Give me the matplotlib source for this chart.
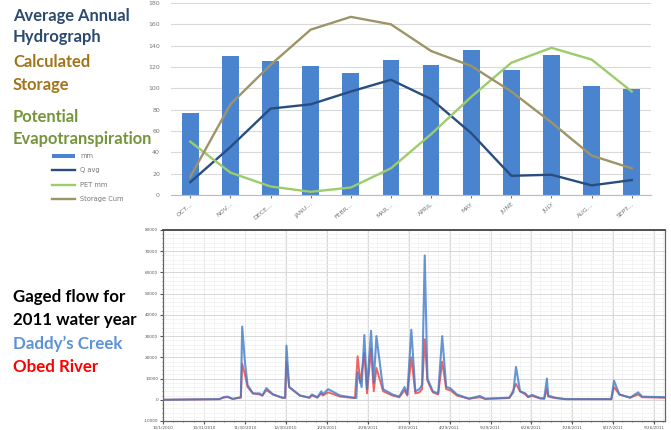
import matplotlib
matplotlib.use("Agg")
import matplotlib.pyplot as plt
from matplotlib.ticker import MultipleLocator
import numpy as np

# --- top chart: average annual hydrograph (mm) ---
months = ["OCT...", "NOV...", "DECE...", "JANU...", "FEBR...", "MAR...",
          "APRIL", "MAY", "JUNE", "JULY", "AUG...", "SEPT..."]
rain_mm = [77, 130, 126, 121, 114, 127, 122, 136, 117, 131, 102, 99]
q_avg = [12, 45, 81, 85, 97, 108, 90, 58, 18, 19, 9, 14]
pet_mm = [50, 21, 8, 3, 7, 25, 57, 92, 124, 138, 127, 97]
storage_cum = [17, 85, 122, 155, 167, 160, 135, 121, 97, 68, 37, 25]

# --- bottom chart: gaged flow, 2011 water year (day of water year, cfs) ---
daddys_day = [0, 27, 42, 45, 48, 52, 56, 58, 59, 61, 63, 67, 72, 74, 77, 82, 89, 91, 92, 94,
              102, 109, 111, 115, 118, 119, 123, 132, 144, 145, 148, 150, 152, 155, 157, 159,
              164, 171, 176, 180, 182, 185, 188, 191, 193, 195, 197, 201, 205, 208, 211, 214,
              219, 228, 236, 240, 258, 261, 263, 266, 270, 272, 275, 281, 284, 286, 287, 292,
              300, 334, 336, 340, 348, 354, 357, 374]
daddys_flow = [0, 200, 300, 1200, 1500, 400, 1000, 1200, 34500, 18000, 7000, 3000, 3000, 2000,
               5500, 2500, 1000, 1000, 25500, 6000, 2000, 1000, 2500, 1200, 4000, 2500, 5000,
               2000, 800, 13000, 6000, 30500, 5000, 32500, 8000, 30000, 5000, 2500, 1500, 6000,
               2500, 33000, 4000, 5000, 7000, 68000, 10000, 4000, 3000, 30000, 6000, 5500, 2500,
               500, 1800, 500, 1000, 3500, 15500, 4000, 3000, 1500, 2300, 800, 600, 10000, 2000,
               1000, 300, 300, 9000, 2500, 1000, 3500, 1500, 1200]
obed_day = [0, 27, 42, 45, 48, 52, 56, 58, 59, 61, 63, 67, 72, 74, 77, 82, 89, 91, 92, 94,
            102, 109, 111, 115, 118, 119, 123, 132, 143, 145, 147, 150, 152, 155, 157, 159,
            164, 171, 176, 180, 182, 185, 188, 191, 193, 195, 197, 201, 205, 208, 211, 214,
            219, 228, 236, 240, 258, 261, 263, 266, 270, 272, 275, 281, 284, 286, 287, 292,
            300, 334, 336, 340, 348, 354, 357, 374]
obed_flow = [0, 200, 300, 1000, 1300, 400, 800, 1000, 17000, 12000, 6000, 3000, 2500, 2000,
             4500, 2500, 900, 900, 18000, 6000, 2000, 1000, 2000, 1000, 3000, 2000, 3500,
             1500, 800, 20500, 8000, 22000, 3000, 24000, 4000, 15000, 4000, 2000, 1200, 4500,
             2000, 20000, 3000, 3500, 5000, 28500, 9000, 3500, 2500, 18000, 5000, 4500, 2000,
             500, 1200, 400, 800, 4500, 7500, 4000, 2500, 1200, 1800, 600, 500, 5000, 1500,
             800, 300, 300, 6000, 2500, 1000, 2500, 1200, 1000]
flow_ticks = [-10000, 0, 10000, 20000, 30000, 40000, 50000, 60000, 70000, 80000]
date_ticks = ["10/1/2010", "10/31/2010", "11/30/2010", "12/30/2010", "1/29/2011",
              "2/28/2011", "3/30/2011", "4/29/2011", "5/29/2011", "6/28/2011",
              "7/28/2011", "8/27/2011", "9/26/2011"]

W, H = 671, 430
fig = plt.figure(figsize=(W / 100, H / 100), dpi=100)
fig.patch.set_facecolor("white")

def fx(px):
    return px / W

def fy(py):
    return 1 - py / H

# top chart
ax1 = fig.add_axes([fx(171), fy(195), fx(651) - fx(171), fy(3) - fy(195)])
x = np.arange(len(months))
bars = ax1.bar(x, rain_mm, width=0.42, color="#4a84cf", label="mm", zorder=2)
l_q, = ax1.plot(x, q_avg, color="#2a4d80", lw=1.7, label="Q avg", zorder=3)
l_pet, = ax1.plot(x, pet_mm, color="#9ccc6c", lw=1.7, label="PET mm", zorder=3)
l_st, = ax1.plot(x, storage_cum, color="#9d9468", lw=1.7, label="Storage Cum", zorder=3)
ax1.set_xlim(-0.48, 11.48)
ax1.set_ylim(0, 177)
ax1.set_yticks(range(0, 181, 20))
ax1.tick_params(axis="y", labelsize=4.5, colors="#777777", length=0, pad=8)
ax1.set_xticks(x)
ax1.set_xticklabels(months, rotation=40, ha="right", rotation_mode="anchor")
ax1.tick_params(axis="x", labelsize=4.5, colors="#777777", length=2, pad=3)
ax1.grid(axis="y", color="#d9d9d9", lw=0.8, zorder=0)
for s in ["top", "right", "left"]:
    ax1.spines[s].set_visible(False)
ax1.spines["bottom"].set_color("#bbbbbb")

fig.legend([bars, l_q, l_pet, l_st], ["mm", "Q avg", "PET mm", "Storage Cum"],
           loc="upper left", bbox_to_anchor=(fx(46), fy(147)), fontsize=4.8,
           frameon=False, labelspacing=1.25, handlelength=3.4, handleheight=0.5,
           labelcolor="#777777")

# bottom chart
ax2 = fig.add_axes([fx(163), fy(421), fx(665) - fx(163), fy(230) - fy(421)])
ax2.plot(obed_day, obed_flow, color="#f04848", lw=1.4, alpha=0.85, zorder=3)
ax2.plot(daddys_day, daddys_flow, color="#3f7cc8", lw=1.5, alpha=0.8, zorder=4)
ax2.set_xlim(0, 374)
ax2.set_ylim(-10000, 80000)
ax2.set_yticks(flow_ticks)
ax2.set_yticklabels([str(v) for v in flow_ticks])
ax2.yaxis.set_minor_locator(MultipleLocator(2000))
ax2.set_xticks(np.arange(0, 374, 30.5))
ax2.set_xticklabels(date_ticks)
ax2.xaxis.set_minor_locator(MultipleLocator(7.6))
ax2.tick_params(axis="both", which="major", labelsize=3, colors="#555555", length=2, pad=1.5)
ax2.tick_params(axis="both", which="minor", length=1, colors="#777777")
ax2.grid(which="major", color="#d8d8d8", lw=0.7, zorder=0)
ax2.grid(which="minor", color="#f0f0f0", lw=0.5, zorder=0)
for s in ax2.spines.values():
    s.set_color("#666666")
    s.set_linewidth(0.9)
ax2.spines["top"].set_color("#444444")
ax2.spines["top"].set_linewidth(1.3)

# side captions
fam = ["Lato", "DejaVu Sans"]
fs_top = 11.9
fs_bot = 12.2
fig.text(fx(13), fy(16), "Average Annual", color="#2c4a6e", fontsize=fs_top, weight="bold", family=fam, va="center")
fig.text(fx(13), fy(37), "Hydrograph", color="#2c4a6e", fontsize=fs_top, weight="bold", family=fam, va="center")
fig.text(fx(13), fy(62), "Calculated", color="#a27418", fontsize=fs_top, weight="bold", family=fam, va="center")
fig.text(fx(13), fy(85), "Storage", color="#a27418", fontsize=fs_top, weight="bold", family=fam, va="center")
fig.text(fx(13), fy(117), "Potential", color="#76943c", fontsize=fs_top, weight="bold", family=fam, va="center")
fig.text(fx(13), fy(139), "Evapotranspiration", color="#76943c", fontsize=fs_top, weight="bold", family=fam, va="center")

fig.text(fx(13), fy(297), "Gaged flow for", color="black", fontsize=fs_bot, weight="bold", family=fam, va="center")
fig.text(fx(13), fy(320), "2011 water year", color="black", fontsize=fs_bot, weight="bold", family=fam, va="center")
fig.text(fx(13), fy(344), "Daddy\u2019s Creek", color="#5b92d8", fontsize=fs_bot, weight="bold", family=fam, va="center")
fig.text(fx(13), fy(367), "Obed River", color="#ff0000", fontsize=fs_bot, weight="bold", family=fam, va="center")

fig.savefig("out.png", dpi=100)
